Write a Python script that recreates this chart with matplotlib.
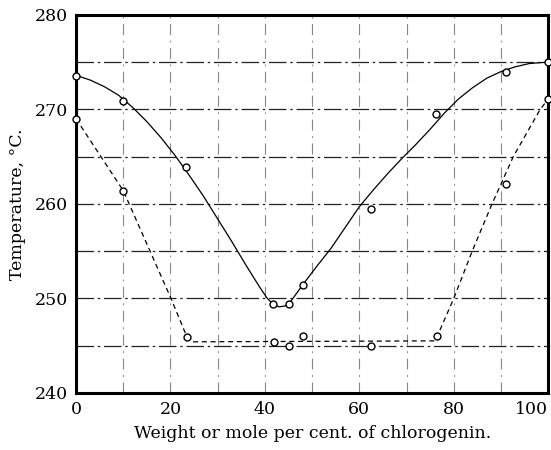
import matplotlib
matplotlib.use("Agg")
import matplotlib.pyplot as plt

# Observed points (upper / liquidus, lower / solidus)
upper_x = [0, 10.0, 23.3, 41.7, 45.1, 48.1, 62.5, 76.3, 91.1, 100]
upper_y = [273.5, 270.9, 263.9, 249.4, 249.4, 251.4, 259.5, 269.5, 274.0, 275.0]
lower_x = [0, 10.0, 23.5, 42.0, 45.1, 48.1, 62.5, 76.5, 91.1, 100]
lower_y = [269.0, 261.4, 245.9, 245.4, 245.0, 246.0, 245.0, 246.0, 262.1, 271.1]

# Drawn curves
solid_x = [0, 3, 6, 9, 12, 15, 18, 21, 24, 27, 30, 33, 36, 39, 40.5, 41.7, 43, 44.3,
           45.5, 46.8, 48.1, 51, 54, 57, 60, 63, 66, 69, 72, 75, 78, 81, 84, 87, 90,
           93, 96, 100]
solid_y = [273.6, 273.1, 272.4, 271.5, 270.2, 268.7, 267.0, 265.1, 263.0, 260.8, 258.4,
           256.0, 253.5, 251.1, 250.0, 249.4, 249.1, 249.2, 249.7, 250.6, 251.5, 253.4,
           255.3, 257.5, 259.7, 261.5, 263.2, 264.8, 266.3, 267.9, 269.6, 271.1, 272.3,
           273.3, 274.0, 274.5, 274.85, 275.0]
dash_x = [0, 10.0, 20.1, 23.5, 24.5, 76.0, 76.5, 80.0, 83.9, 88.1, 92.6, 98.3, 100]
dash_y = [269.0, 261.4, 250.0, 245.9, 245.4, 245.5, 246.0, 250.0, 255.0, 260.0, 265.0,
          270.0, 271.1]

x_ticks = [0, 20, 40, 60, 80, 100]
y_ticks = [240, 250, 260, 270, 280]
h_grid = [245, 250, 255, 260, 265, 270, 275]
v_grid = [10, 20, 30, 40, 50, 60, 70, 80, 90]

plt.rcParams['font.family'] = ['DejaVu Serif']
fig = plt.figure(figsize=(5.51, 4.5), dpi=100)
ax = fig.add_axes([0.138, 0.127, 0.857, 0.84])

for y in h_grid:
    ax.axhline(y, color='#222222', lw=0.9, ls=(0, (14, 3, 2, 3)), zorder=1)
for x in v_grid:
    ax.axvline(x, color='#888888', lw=0.8, ls=(0, (10, 5, 1.5, 5)), zorder=1)

ax.plot(solid_x, solid_y, color='black', lw=0.9, zorder=2)
ax.plot(dash_x, dash_y, color='black', lw=0.9, ls=(0, (4, 3)), zorder=2)
ax.plot(upper_x, upper_y, 'o', ms=5, mfc='white', mec='black', mew=1.0, zorder=3,
        clip_on=False)
ax.plot(lower_x, lower_y, 'o', ms=5, mfc='white', mec='black', mew=1.0, zorder=3,
        clip_on=False)

ax.set_xlim(0, 100)
ax.set_ylim(240, 280)
ax.set_xticks(x_ticks)
ax.set_yticks(y_ticks)
ax.tick_params(length=0, labelsize=12.5, pad=6)
labels = ax.get_xticklabels()
labels[-1].set_horizontalalignment('right')
labels[-1].set_x(100)
for s in ax.spines.values():
    s.set_linewidth(2.2)
    s.set_color('black')

ax.set_xlabel('Weight or mole per cent. of chlorogenin.', fontsize=12.5, labelpad=5)
ax.set_ylabel('Temperature, °C.', fontsize=12.5, labelpad=6)

fig.savefig('out.png', dpi=100)
